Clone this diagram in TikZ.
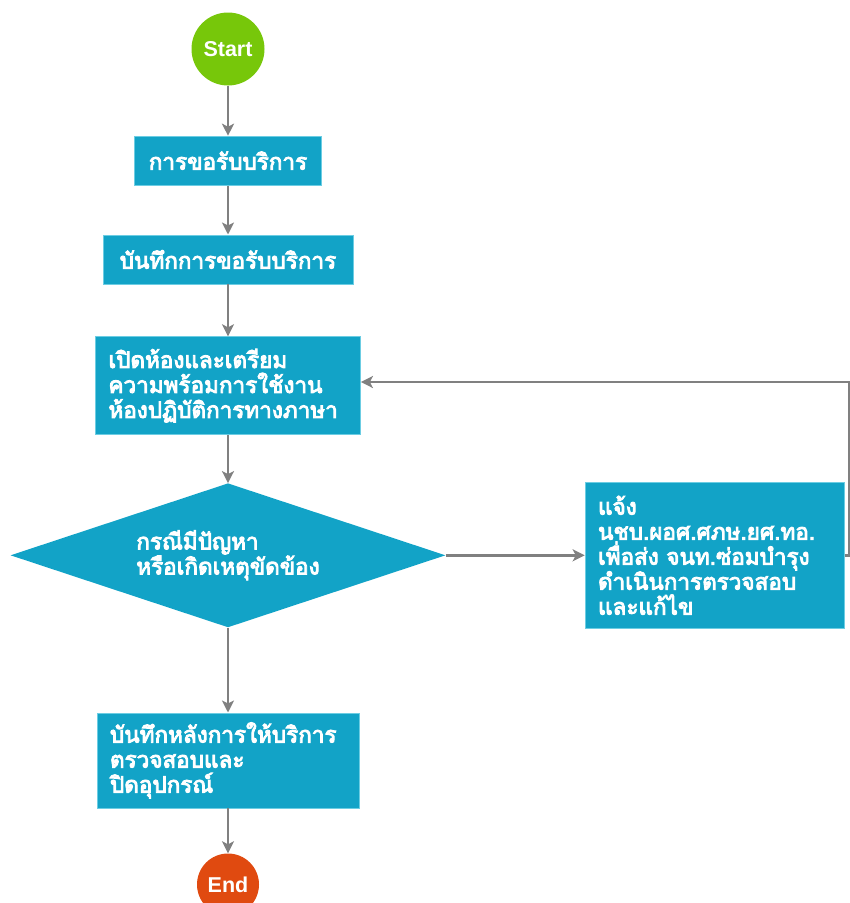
\documentclass[tikz,border=0pt]{standalone}
\usepackage{fontspec}
\usepackage{xcolor}
\usetikzlibrary{positioning,arrows.meta,shapes.geometric}
\newfontfamily\thaifont[Script=Thai, FakeBold=4]{Loma}
\setsansfont{Liberation Sans}
\definecolor{celeste}{HTML}{12A3C7}
\definecolor{borde}{HTML}{6CCDE3}
\definecolor{verde}{HTML}{77C70A}
\definecolor{rojo}{HTML}{E04A10}
\definecolor{gris}{HTML}{808080}

\begin{document}
\begin{tikzpicture}[
  x=1pt, y=-1pt,
  font=\thaifont\fontsize{22.5}{25}\selectfont,
  caja/.style={draw=borde, fill=celeste, text=white, line width=0.8pt,
               minimum height=49pt, inner sep=0pt, align=center},
  cajatexto/.style={caja, align=left, inner xsep=13pt},
  terminal/.style={circle, text=white, inner sep=0pt,
                   font=\sffamily\bfseries\fontsize{21.5}{24}\selectfont},
  flecha/.style={-{Stealth[length=12pt, width=12pt, inset=3pt]}, line width=2.5pt, gris}
]
  \useasboundingbox (0,0) rectangle (850,903);
  \node[terminal, fill=verde, minimum size=73pt] (inicio) at (228,49) {Start};
  \node[caja, minimum width=187pt, below=50pt of inicio] (c1) {การขอรับบริการ};
  \node[caja, minimum width=250pt, below=49pt of c1] (c2) {บันทึกการขอรับบริการ};
  \node[cajatexto, text width=239pt, minimum height=98pt, below=52pt of c2] (c3)
    {เปิดห้องและเตรียม\\ความพร้อมการใช้งาน\\ห้องปฏิบัติการทางภาษา};
  \node[diamond, fill=celeste, text=white, aspect=3, inner sep=0pt, align=left,
        minimum width=435pt, minimum height=144pt, below=48pt of c3] (d1)
    {กรณีมีปัญหา\\หรือเกิดเหตุขัดข้อง};
  \node[cajatexto, text width=233pt, minimum height=146pt, right=139pt of d1] (c4)
    {แจ้ง\\นชบ.ผอศ.ศภษ.ยศ.ทอ.\\เพื่อส่ง จนท.ซ่อมบำรุง\\ดำเนินการตรวจสอบ\\และแก้ไข};
  \node[cajatexto, text width=236pt, minimum height=95pt, below=85pt of d1] (c5)
    {บันทึกหลังการให้บริการ\\ตรวจสอบและ\\ปิดอุปกรณ์};
  \node[terminal, fill=rojo, minimum size=62pt, below=45pt of c5] (fin) {End};
  \coordinate (vuelta) at (849,382);
  \draw[flecha] (inicio) -- (c1);
  \draw[flecha] (c1) -- (c2);
  \draw[flecha] (c2) -- (c3);
  \draw[flecha] (c3) -- (d1);
  \draw[flecha] (d1) -- (c4);
  \draw[flecha] (d1) -- (c5);
  \draw[flecha] (c5) -- (fin);
  \draw[flecha] (c4.east) -| (vuelta) -- (vuelta -| c3.east);
\end{tikzpicture}
\end{document}
